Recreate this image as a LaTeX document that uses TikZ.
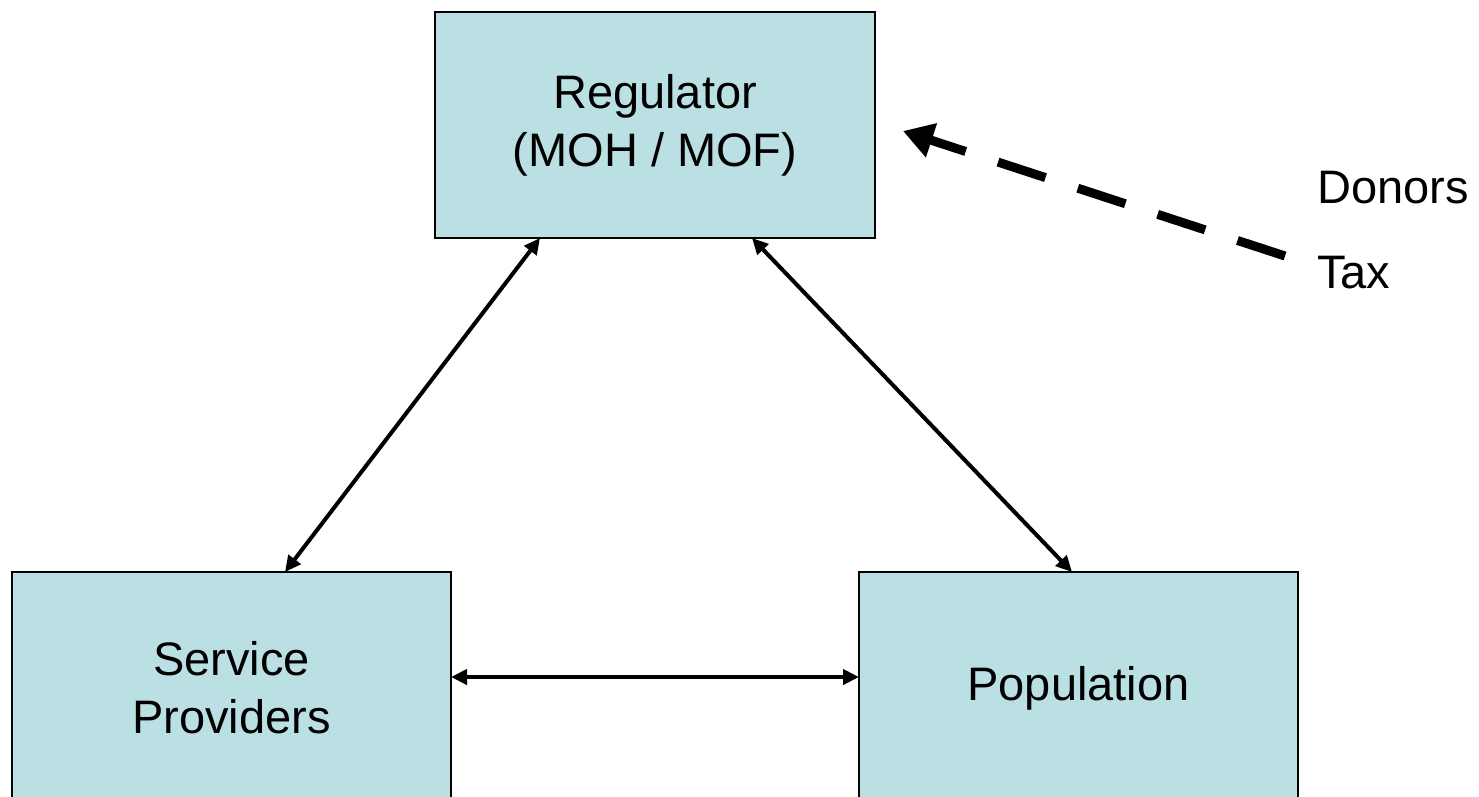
\documentclass[tikz,border=0pt]{standalone}
\usepackage{fontspec}
\setmainfont{Liberation Sans}
\usetikzlibrary{arrows.meta}
\definecolor{boxfill}{RGB}{187,224,227}
\begin{document}
\begin{tikzpicture}[x=1pt,y=-1pt,
  box/.style={draw=black,line width=2pt,fill=boxfill,inner sep=0pt,outer sep=0pt,align=center,font=\fontsize{47}{58}\selectfont},
  link/.style={line width=4pt,{Triangle[length=16pt,width=15pt]}-{Triangle[length=16pt,width=15pt]}},
  lbl/.style={anchor=base west,inner sep=0pt,font=\fontsize{47}{56}\selectfont}]
\useasboundingbox (0,0) rectangle (1479,796);
\clip (0,0) rectangle (1479,796);
\node[box,minimum width=440pt,minimum height=226pt] (reg) at (655,125) {Regulator\\(MOH / MOF)};
\node[box,minimum width=439pt,minimum height=232pt] (sp) at (231.5,688) {Service\\Providers};
\node[box,minimum width=439pt,minimum height=232pt] (pop) at (1078.5,688) {Population};
\draw[link] ([xshift=273pt]sp.north west) -- ([xshift=105pt]reg.south west);
\draw[link] ([xshift=317pt]reg.south west) -- ([xshift=213pt]pop.north west);
\draw[link] ([yshift=11pt]sp.east) -- ([yshift=11pt]pop.west);
\node[lbl] (donors) at (1317,203) {Donors};
\node[lbl] (tax) at (1317,288) {Tax};
\coordinate (tail) at (1285,256);
\coordinate (tip) at (903,131);
\draw[line width=9pt,dash pattern=on 50pt off 34pt,-{Triangle[length=30pt,width=34pt]}] (tail) -- (tip);
\end{tikzpicture}
\end{document}
